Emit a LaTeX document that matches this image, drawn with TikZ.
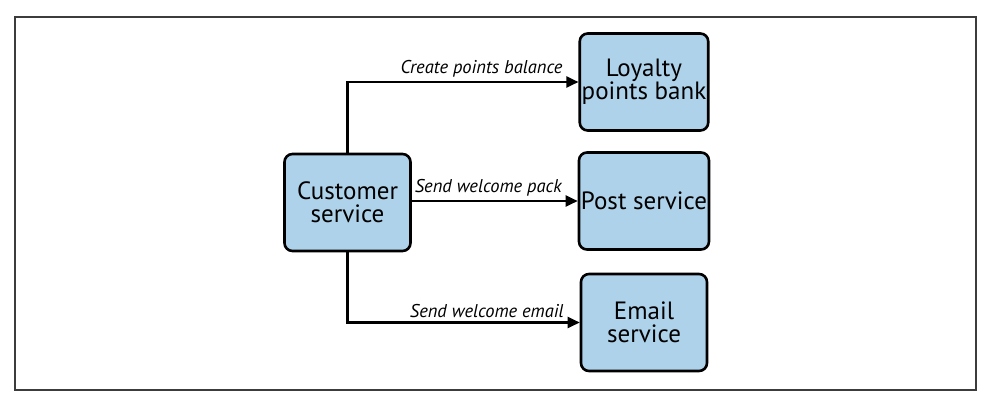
\documentclass[tikz,border=0pt]{standalone}
\usepackage{fontspec}
\setmainfont{PT Sans}
\usetikzlibrary{arrows.meta}
\definecolor{boxblue}{RGB}{174,210,234}
\definecolor{framegray}{RGB}{60,60,60}
\tikzset{
  svcbox/.style={draw=black, line width=2.6pt, rounded corners=8pt, fill=boxblue,
    minimum width=126pt, minimum height=97pt, align=center, inner sep=2pt,
    font=\fontsize{25}{23}\selectfont},
  flow/.style={line width=2.2pt, -{Triangle[length=12pt,width=11pt]}},
  lbl/.style={font=\fontsize{18.5}{18.5}\selectfont\itshape, inner sep=1pt, anchor=south east}
}
\begin{document}
\begin{tikzpicture}[x=1pt,y=-1pt]
\useasboundingbox (0,0) rectangle (985,400);
\draw[framegray, line width=1.3pt] (15,17) rectangle (976,390);
\node[svcbox] (cust) at (347.5,202.5) {Customer\\service};
\node[svcbox] (loy) at (644,82) {Loyalty\\points bank};
\node[svcbox] (post) at (644,201) {Post service};
\node[svcbox] (email) at (644,322.5) {Email\\service};
\draw[flow] (cust.north) |- (loy.west) node[lbl, pos=1, xshift=-14pt, yshift=3pt] {Create points balance};
\draw[flow] (cust.east |- post.west) -- (post.west) node[lbl, pos=1, xshift=-14pt, yshift=3pt] {Send welcome pack};
\draw[flow] (cust.south) |- (email.west) node[lbl, pos=1, xshift=-14pt, yshift=3pt] {Send welcome email};
\end{tikzpicture}
\end{document}
